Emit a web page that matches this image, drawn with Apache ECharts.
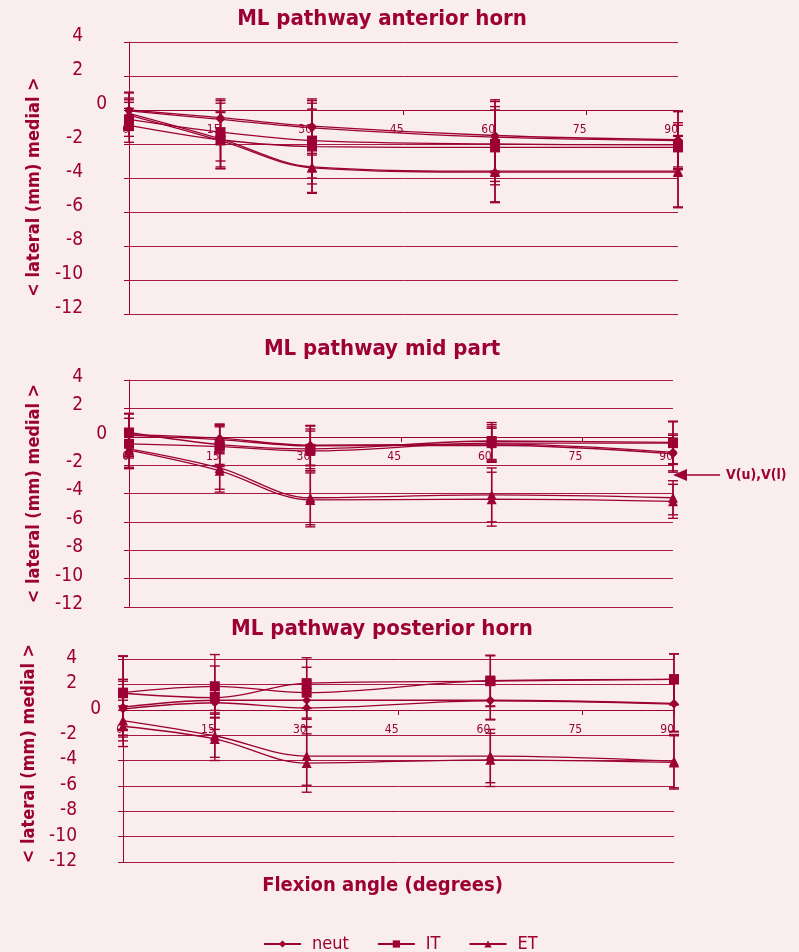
<!DOCTYPE html>
<html><head><meta charset="utf-8">
<script src="https://cdn.jsdelivr.net/npm/echarts@6/dist/echarts.min.js"></script>
<style>html,body{margin:0;padding:0;background:#f9eded;} #c{width:799px;height:952px;}</style>
</head><body><div id="c"></div><script>
// ---- data ----
const angles = [0, 15, 30, 60, 90];
const groupNames = ['neut', 'IT', 'ET'];
const panelTitles = ['ML pathway anterior horn', 'ML pathway mid part', 'ML pathway posterior horn'];
const yTickMin = -12, yTickMax = 4, yTickStep = 2;
const xTickMin = 0, xTickMax = 90, xTickStep = 15;

// anterior horn
const antNeutU = [0.0, -0.45, -0.95, -1.5, -1.75];
const antNeutL = [-0.05, -0.55, -1.05, -1.6, -1.8];
const antNeutSD = [1.05, 1.1, 1.6, 2.1, 1.7];
const antITU = [-0.55, -1.3, -1.8, -2.0, -2.05];
const antITL = [-0.9, -1.75, -2.15, -2.2, -2.2];
const antITSD = [1.0, 1.7, 2.2, 2.2, 1.3];
const antETU = [-0.2, -1.7, -3.35, -3.6, -3.6];
const antETL = [-0.3, -1.8, -3.4, -3.65, -3.65];
const antETSD = [0.9, 1.65, 1.5, 1.8, 2.1];

// mid part
const midNeutU = [0.15, -0.1, -0.6, -0.5, -1.1];
const midNeutL = [0.1, -0.2, -0.65, -0.6, -1.2];
const midNeutSD = [1.5, 1.0, 1.4, 1.2, 1.3];
const midITU = [0.3, -0.55, -0.85, -0.3, -0.4];
const midITL = [-0.5, -0.7, -1.0, -0.45, -0.45];
const midITSD = [1.0, 1.4, 1.4, 1.3, 1.5];
const midETU = [-0.85, -2.2, -4.3, -4.1, -4.3];
const midETL = [-0.95, -2.4, -4.45, -4.4, -4.55];
const midETSD = [1.3, 1.5, 1.9, 1.9, 1.2];

// posterior horn
const postNeutU = [0.2, 0.75, 0.75, 0.75, 0.5];
const postNeutL = [0.05, 0.55, 0.15, 0.7, 0.45];
const postNeutSD = [2.2, 0.8, 1.5, 1.5, 2.2];
const postITU = [1.35, 1.85, 1.35, 2.3, 2.4];
const postITL = [1.3, 0.95, 2.1, 2.25, 2.4];
const postITSD = [2.9, 2.5, 2.0, 2.0, 2.0];
const postETU = [-0.85, -2.05, -3.65, -3.65, -4.05];
const postETL = [-1.3, -2.3, -4.2, -3.95, -4.15];
const postETSD = [1.6, 1.7, 2.3, 2.1, 2.1];

// ---- style ----
const RED = '#9c0035';
const BG = '#f9eded';
const FONT = '"DejaVu Sans Condensed", "Liberation Sans Narrow", sans-serif';
const symbols = { neut: 'diamond', IT: 'rect', ET: 'triangle' };
const symSizes = { neut: 9, IT: 10, ET: 10 };

const panels = [
  { title: panelTitles[0], titleTop: 8, grid: { left: 129, top: 42, width: 549, height: 272 }, shift: 6, namePad: [0, 18, 0, 0],
    sets: { neut: [antNeutU, antNeutL, antNeutSD], IT: [antITU, antITL, antITSD], ET: [antETU, antETL, antETSD] } },
  { title: panelTitles[1], titleTop: 338, grid: { left: 129, top: 380, width: 544, height: 227 }, shift: 3, namePad: [0, 0, 0, 0],
    sets: { neut: [midNeutU, midNeutL, midNeutSD], IT: [midITU, midITL, midITSD], ET: [midETU, midETL, midETSD] } },
  { title: panelTitles[2], titleTop: 618, grid: { left: 123, top: 659, width: 551, height: 203 }, shift: 1, namePad: [0, 0, 0, 14],
    sets: { neut: [postNeutU, postNeutL, postNeutSD], IT: [postITU, postITL, postITSD], ET: [postETU, postETL, postETSD] } }
];

function errSeries(pi, vals, sds) {
  return {
    type: 'custom', xAxisIndex: pi, yAxisIndex: pi, silent: true, z: 3,
    data: angles.map((a, k) => [a, vals[k] - sds[k], vals[k] + sds[k]]),
    renderItem: function (params, api) {
      const x = api.value(0);
      const lo = api.coord([x, api.value(1)]);
      const hi = api.coord([x, api.value(2)]);
      const w = 5;
      const st = { stroke: RED, lineWidth: 1.4 };
      return { type: 'group', children: [
        { type: 'line', shape: { x1: lo[0], y1: lo[1], x2: hi[0], y2: hi[1] }, style: st },
        { type: 'line', shape: { x1: lo[0] - w, y1: lo[1], x2: lo[0] + w, y2: lo[1] }, style: st },
        { type: 'line', shape: { x1: hi[0] - w, y1: hi[1], x2: hi[0] + w, y2: hi[1] }, style: st }
      ] };
    }
  };
}

// x axis sits at y = 0: offset upward from grid bottom by the fraction of the range below zero
const zeroFrac = (0 - yTickMin) / (yTickMax - yTickMin);

const option = {
  backgroundColor: BG,
  animation: false,
  textStyle: { fontFamily: FONT, color: RED },
  title: panels.map(p => ({
    text: p.title, left: 382, top: p.titleTop, textAlign: 'center', padding: 0,
    textStyle: { fontFamily: FONT, fontSize: 22, fontWeight: 'bold', color: RED }
  })),
  legend: {
    data: groupNames, left: 258, top: 930, itemWidth: 37, itemHeight: 9, itemGap: 28,
    textStyle: { fontFamily: FONT, fontSize: 18, color: RED, padding: [0, 0, 0, 6] }
  },
  grid: panels.map(p => Object.assign({ outerBoundsMode: 'none' }, p.grid)),
  xAxis: panels.map((p, i) => ({
    type: 'value', gridIndex: i, min: xTickMin, max: xTickMax, interval: xTickStep,
    position: 'bottom', offset: -Math.round(p.grid.height * zeroFrac),
    axisLine: { onZero: false, lineStyle: { color: RED, width: 1 } },
    axisTick: { show: true, length: 5, lineStyle: { color: RED } },
    splitLine: { show: false },
    axisLabel: { fontFamily: FONT, fontSize: 12, color: RED, margin: 14, align: 'right', showMinLabel: true, showMaxLabel: true },
    name: i === 2 ? 'Flexion angle (degrees)' : '',
    nameLocation: 'middle', nameGap: 166,
    nameTextStyle: { fontFamily: FONT, fontSize: 20, fontWeight: 'bold', color: RED, padding: [0, 32, 0, 0] }
  })),
  yAxis: panels.map((p, i) => ({
    type: 'value', gridIndex: i, min: yTickMin, max: yTickMax, interval: yTickStep,
    axisLine: { show: true, onZero: false, lineStyle: { color: RED, width: 1 } },
    axisTick: { show: true, length: 5, lineStyle: { color: RED } },
    splitLine: { show: true, lineStyle: { color: RED, width: 1, opacity: 0.9 } },
    axisLabel: {
      fontFamily: FONT, fontSize: 19, color: RED, margin: 22,
      formatter: v => v === 0 ? '{z|0}' : '{n|' + v + '}',
      rich: {
        z: { fontFamily: FONT, fontSize: 19, color: RED, padding: [0, 0, 2 * p.shift, 0] },
        n: { fontFamily: FONT, fontSize: 19, color: RED, padding: [0, 24, 2 * p.shift, 0] }
      }
    },
    name: '< lateral (mm) medial >', nameLocation: 'middle', nameGap: i === 2 ? 80 : 86,
    nameTextStyle: { fontFamily: FONT, fontSize: 18, fontWeight: 'bold', color: RED, padding: p.namePad }
  })),
  series: [],
  graphic: [
    { type: 'line', shape: { x1: 686, y1: 475, x2: 720, y2: 475 }, style: { stroke: RED, lineWidth: 1.5 } },
    { type: 'polygon', shape: { points: [[673, 475], [687, 469], [687, 481]] }, style: { fill: RED } },
    { type: 'text', x: 726, y: 475, style: { text: 'V(u),V(l)', fill: RED, font: 'bold 14px ' + FONT, verticalAlign: 'middle' } }
  ]
};

panels.forEach((p, pi) => {
  groupNames.forEach(g => {
    const [u, l, sd] = p.sets[g];
    option.series.push(errSeries(pi, u, sd));
    option.series.push(errSeries(pi, l, sd));
    [u, l].forEach(arr => {
      option.series.push({
        name: g, type: 'line', xAxisIndex: pi, yAxisIndex: pi, z: 4,
        data: angles.map((a, k) => [a, arr[k]]),
        smooth: 0.35, symbol: symbols[g], symbolSize: symSizes[g], showSymbol: true,
        lineStyle: { color: RED, width: 1.3 }, itemStyle: { color: RED }
      });
    });
  });
});

const chart = echarts.init(document.getElementById('c'), null, { renderer: 'canvas' });
chart.setOption(option);
</script></body></html>
